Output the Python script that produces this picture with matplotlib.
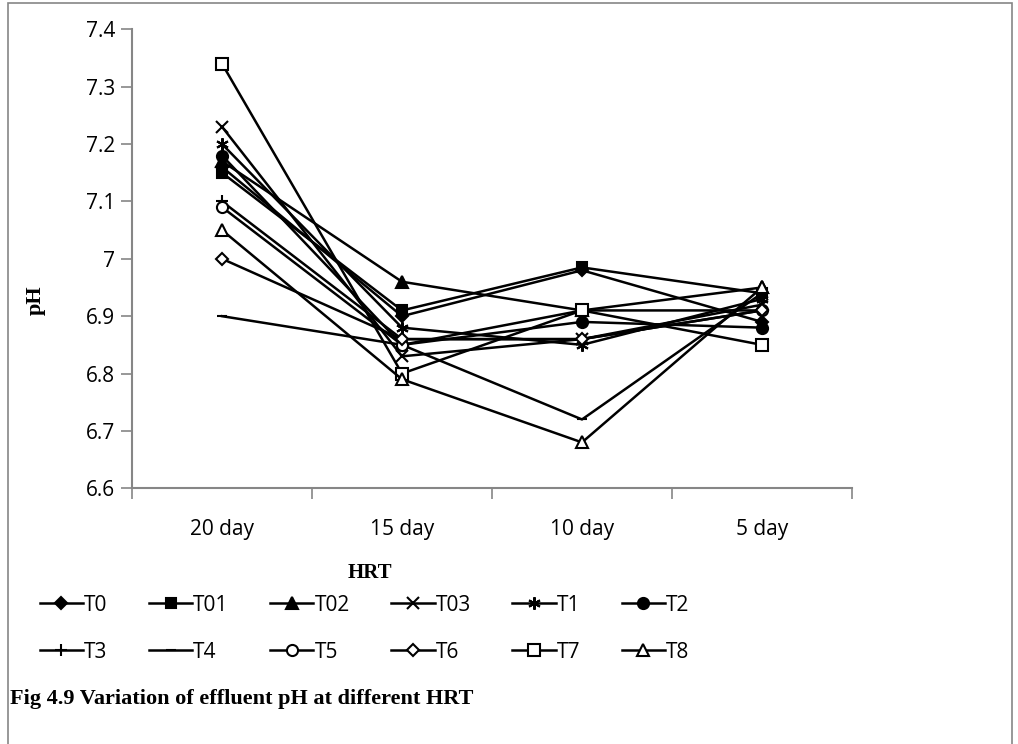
import matplotlib.pyplot as plt
from matplotlib.patches import Rectangle

# effluent pH for each treatment at the four HRTs
hrt = ["20 day", "15 day", "10 day", "5 day"]
T0 = [7.16, 6.90, 6.98, 6.89]
T01 = [7.15, 6.91, 6.985, 6.94]
T02 = [7.17, 6.96, 6.91, 6.95]
T03 = [7.23, 6.83, 6.86, 6.92]
T1 = [7.20, 6.88, 6.85, 6.93]
T2 = [7.18, 6.85, 6.89, 6.88]
T3 = [7.10, 6.86, 6.86, 6.91]
T4 = [6.90, 6.85, 6.72, 6.94]
T5 = [7.09, 6.85, 6.91, 6.91]
T6 = [7.00, 6.86, 6.86, 6.91]
T7 = [7.34, 6.80, 6.91, 6.85]
T8 = [7.05, 6.79, 6.68, 6.95]

names = ["T0", "T01", "T02", "T03", "T1", "T2", "T3", "T4", "T5", "T6", "T7", "T8"]
series = [T0, T01, T02, T03, T1, T2, T3, T4, T5, T6, T7, T8]
# marker, size, filled
styles = [("D", 6.5, True), ("s", 7.5, True), ("^", 8, True), ("x", 8, True),
          ((6, 2, 0), 9, True), ("o", 8, True), ("+", 9, True), ("_", 7, True),
          ("o", 8, False), ("D", 6.5, False), ("s", 8, False), ("^", 8.5, False)]

plt.rcParams['font.family'] = ['Open Sans', 'DejaVu Sans']
grey = "#868686"

fig = plt.figure(figsize=(10.18, 7.44), dpi=100)
ax = fig.add_axes([0.1297, 0.3437, 0.7072, 0.6169])

x = list(range(len(hrt)))
lines = []
for name, vals, (m, ms, filled) in zip(names, series, styles):
    ln, = ax.plot(x, vals, color="black", lw=1.8, marker=m, markersize=ms,
                  markerfacecolor="black" if filled else "white",
                  markeredgecolor="black", markeredgewidth=1.5, label=name)
    lines.append(ln)

ax.set_xlim(-0.5, 3.5)
ax.set_ylim(6.6, 7.4)
ax.set_yticks([6.6, 6.7, 6.8, 6.9, 7.0, 7.1, 7.2, 7.3, 7.4])
ax.set_yticklabels(["6.6", "6.7", "6.8", "6.9", "7", "7.1", "7.2", "7.3", "7.4"])
ax.set_xticks(x)
ax.set_xticklabels(hrt)
ax.set_xticks([-0.5, 0.5, 1.5, 2.5, 3.5], minor=True)
ax.tick_params(axis="x", which="major", length=0, pad=22, labelsize=15)
ax.tick_params(axis="x", which="minor", length=8, width=1.2, color=grey, direction="out")
ax.tick_params(axis="y", length=8, width=1.2, color=grey, labelsize=15, pad=4)

for s in ["top", "right"]:
    ax.spines[s].set_visible(False)
for s in ["left", "bottom"]:
    ax.spines[s].set_color(grey)
    ax.spines[s].set_linewidth(1.5)

ax.set_ylabel("pH", family="Liberation Serif", fontweight="bold", fontsize=16)
ax.yaxis.set_label_coords(-0.12, 0.41)
ax.set_xlabel("HRT", family="Liberation Serif", fontweight="bold", fontsize=15)
ax.xaxis.set_label_coords(0.33, -0.162)

# legend filled row by row, six entries per row
order = [0, 6, 1, 7, 2, 8, 3, 9, 4, 10, 5, 11]
fig.legend([lines[i] for i in order], [names[i] for i in order],
           loc="upper left", bbox_to_anchor=(0.031, 0.212), borderaxespad=0,
           ncol=6, frameon=False, fontsize=15, handlelength=2.07,
           handletextpad=0.05, columnspacing=2.0, labelspacing=1.25)

fig.text(0.01, 0.054, "Fig 4.9 Variation of effluent pH at different HRT",
         family="Liberation Serif", fontweight="bold", fontsize=16)

# chart frame
fig.add_artist(Rectangle((0.008, -0.01), 0.986, 1.006, transform=fig.transFigure,
                         fill=False, edgecolor=grey, lw=1.2))

fig.savefig("out.png", dpi=100)
